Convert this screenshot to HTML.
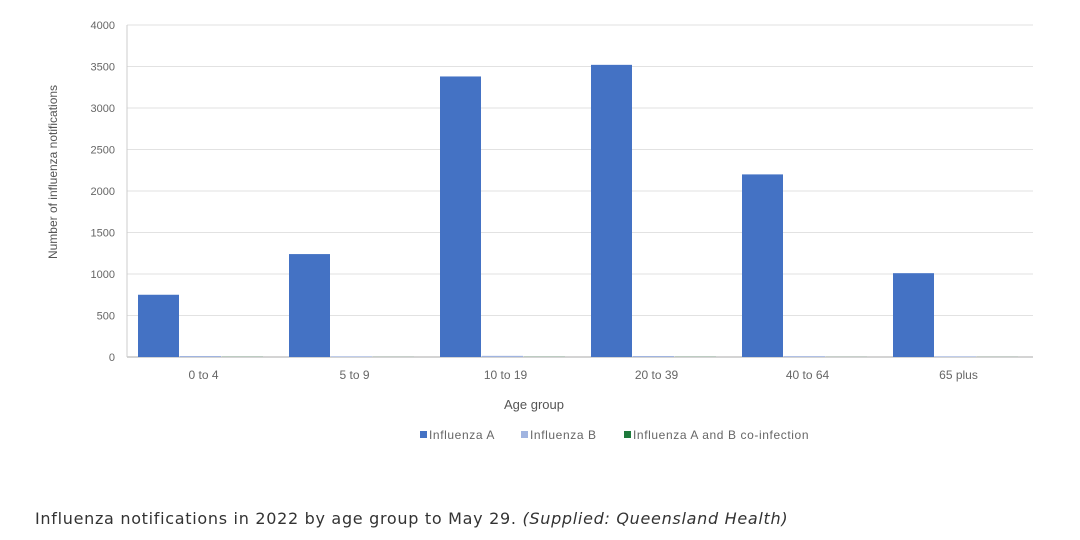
<!DOCTYPE html>
<html><head><meta charset="utf-8"><style>
body{margin:0;background:#fff;width:1080px;height:535px;overflow:hidden;font-family:"Liberation Sans",sans-serif;}
svg text{font-family:"Liberation Sans",sans-serif;}
</style></head><body>
<svg width="1080" height="535">
<g id="grid"></g><g id="bars"></g><g id="xlabels"></g>
<text x="60" y="175" transform="rotate(-90 57 175)" font-size="12" fill="#555" text-anchor="middle">Number of influenza notifications</text>
<text x="534" y="409" font-size="13" fill="#555" text-anchor="middle">Age group</text>
<g font-size="12" fill="#666" letter-spacing="0.6">
<rect x="420" y="431" width="7" height="7" fill="#4472c4"/>
<text x="429" y="439">Influenza A</text>
<rect x="521" y="431" width="7" height="7" fill="#a0b4e0"/>
<text x="530" y="439">Influenza B</text>
<rect x="624" y="431" width="7" height="7" fill="#1e7a3c"/>
<text x="633" y="439">Influenza A and B co-infection</text>
</g>
<text x="35" y="524" font-size="16" fill="#333" style="font-family:'DejaVu Sans',sans-serif" letter-spacing="0.7">Influenza notifications in 2022 by age group to May 29. <tspan font-style="italic">(Supplied: Queensland Health)</tspan></text>
</svg>
<script>
const categories=["0 to 4","5 to 9","10 to 19","20 to 39","40 to 64","65 plus"];
const fluA=[750,1240,3380,3520,2200,1010];
const fluB=[12,8,14,12,10,8];
const fluAB=[2,1,2,2,1,1];
const yTicks=[0,500,1000,1500,2000,2500,3000,3500,4000];
const NS="http://www.w3.org/2000/svg";
const x0=127,x1=1033,y0=357,yTop=25,yMax=4000;
const y=v=>y0-(v/yMax)*(y0-yTop);
const gw=(x1-x0)/categories.length;
function mk(t,a,p){const e=document.createElementNS(NS,t);for(const k in a)e.setAttribute(k,a[k]);p.appendChild(e);return e;}
const grid=document.getElementById('grid');
yTicks.forEach(t=>{
 const l=mk('line',{x1:x0,x2:x1,y1:y(t),y2:y(t),stroke:t===0?'#aaa':'#e2e2e2','stroke-width':1},grid);
 
 
 const tx=mk('text',{x:115,y:y(t)+4,'font-size':11,fill:'#666','text-anchor':'end'},grid);
 tx.textContent=t;
 
 
});
mk('line',{x1:x0,x2:x0,y1:yTop,y2:y0,stroke:'#ccc'},grid);
const bars=document.getElementById('bars'),xl=document.getElementById('xlabels');
const series=[[fluA,'#4472c4','a'],[fluB,'#a0b4e0','b'],[fluAB,'#1e7a3c','ab']];
categories.forEach((c,i)=>{
 const gs=x0+i*gw;
 series.forEach((s,j)=>{
  const v=s[0][i];
  const r=mk('rect',{x:gs+11+j*42,y:y(v),width:41,height:y0-y(v),fill:s[1]},bars);
  
  
 });
 const t=mk('text',{x:gs+gw/2+1,y:379,'font-size':12,fill:'#666','text-anchor':'middle'},xl);
 t.textContent=c;
 
 
});
</script>
</body></html>
